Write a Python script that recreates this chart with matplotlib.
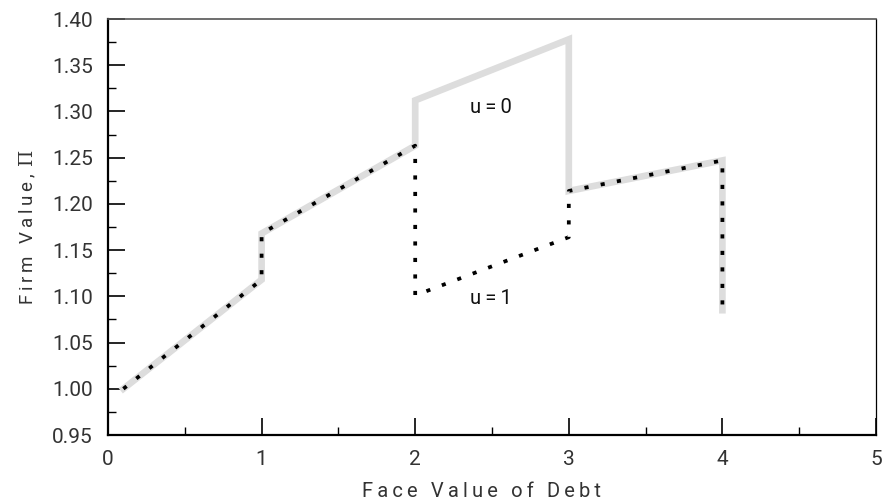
import matplotlib
matplotlib.use("Agg")
import matplotlib.pyplot as plt
from matplotlib.ticker import MultipleLocator

# Data
u0_x = [0.1, 1.0, 1.0, 2.0, 2.0, 3.0, 3.0, 4.0, 4.0]
u0_y = [1.000, 1.118, 1.168, 1.263, 1.312, 1.378, 1.214, 1.247, 1.085]
u1_x = [0.1, 1.0, 1.0, 2.0, 2.0, 3.0, 3.0, 4.0, 4.0]
u1_y = [1.000, 1.118, 1.168, 1.263, 1.101, 1.164, 1.214, 1.247, 1.085]

x_ticks = [0, 1, 2, 3, 4, 5]
y_ticks = [0.95, 1.00, 1.05, 1.10, 1.15, 1.20, 1.25, 1.30, 1.35, 1.40]

FAM = ['Roboto', 'DejaVu Sans']
plt.rcParams['font.family'] = FAM
plt.rcParams['mathtext.fontset'] = 'dejavuserif'

fig = plt.figure(figsize=(8.83, 5.04), dpi=100)
ax = fig.add_axes([108/883, 69/504, 768/883, 416/504])

ax.plot(u0_x, u0_y, color='#dddddd', lw=4.8, solid_joinstyle='miter', zorder=2)
ax.plot(u1_x, u1_y, color='black', lw=2.7, linestyle=(0, (1.1, 3.3)), zorder=3)

ax.text(2.49, 1.304, 'u\u2009=\u20090', ha='center', va='center', fontsize=14.5, color='#111111')
ax.text(2.49, 1.098, 'u\u2009=\u20091', ha='center', va='center', fontsize=14.5, color='#111111')

ax.set_xlim(0, 5)
ax.set_ylim(0.95, 1.40)
ax.set_xticks(x_ticks)
ax.set_yticks(y_ticks)
ax.set_xticklabels([str(t) for t in x_ticks])
ax.set_yticklabels([f'{t:.2f}' for t in y_ticks])
ax.xaxis.set_minor_locator(MultipleLocator(0.5))
ax.yaxis.set_minor_locator(MultipleLocator(0.025))

ax.tick_params(which='major', direction='in', length=12, width=1.2, labelsize=15, color='black', labelcolor='#333333')
ax.tick_params(axis='y', which='major', pad=11)
ax.tick_params(axis='x', which='major', pad=11)
ax.tick_params(which='minor', direction='in', length=6, width=1.0)
ax.tick_params(top=False, right=False, which='both')

for side in ['left', 'bottom']:
    ax.spines[side].set_linewidth(1.6)
    ax.spines[side].set_color('black')
ax.spines['top'].set_linewidth(1.2)
ax.spines['top'].set_color('#555555')
ax.spines['right'].set_linewidth(0.9)
ax.spines['right'].set_color('black')

def spaced(s):
    return '\u2009'.join(s)

ax.set_xlabel(spaced('Face Value of Debt'), fontsize=14.5, color='#333333')
ax.xaxis.set_label_coords(0.486, -0.113)
ax.set_ylabel(spaced('Firm Value,') + '\u2009\u2009$\\Pi$', fontsize=13.5, labelpad=10, color='#333333')

fig.savefig('out.png', dpi=100)
